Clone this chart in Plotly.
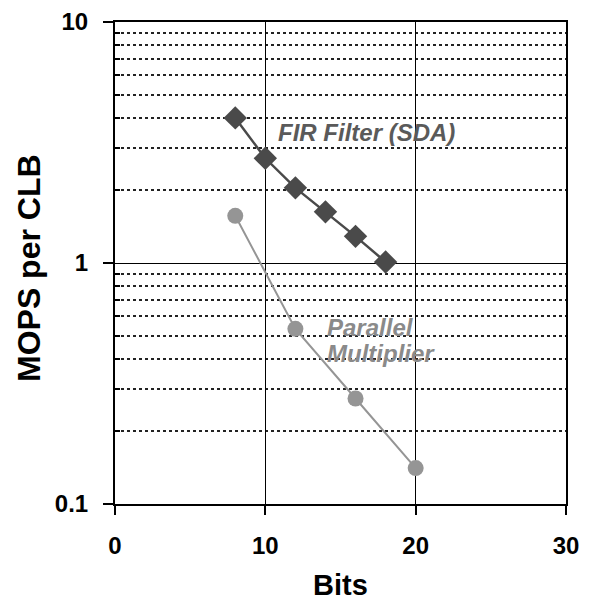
import plotly.graph_objects as go

fir_bits = [8, 10, 12, 14, 16, 18]
fir_mops = [4.0, 2.72, 2.05, 1.63, 1.29, 1.01]
mult_bits = [8, 12, 16, 20]
mult_mops = [1.57, 0.533, 0.274, 0.141]

x_ticks = [0, 10, 20, 30]
y_ticks = [0.1, 1, 10]
y_tick_labels = ["0.1", "1", "10"]
y_minor = [m * d for d in (0.1, 1) for m in range(2, 10)]

font_family = "Liberation Sans, Arial, sans-serif"

fig = go.Figure()
fig.add_trace(go.Scatter(
    x=mult_bits, y=mult_mops, mode="lines+markers",
    line=dict(color="#959595", width=2),
    marker=dict(symbol="circle", size=16, color="#959595"),
    showlegend=False,
))
fig.add_trace(go.Scatter(
    x=fir_bits, y=fir_mops, mode="lines+markers",
    line=dict(color="#4a4a4a", width=2.5),
    marker=dict(symbol="diamond", size=18, color="#4a4a4a"),
    showlegend=False,
))

fig.add_annotation(x=10.7, y=0.541, xref="x", yref="y", yanchor="middle",
                   text="<b><i>FIR Filter (SDA)</i></b>", showarrow=False,
                   xanchor="left", font=dict(family=font_family, size=24, color="#5a5a5a"))
fig.add_annotation(x=14.0, y=-0.266, xref="x", yref="y",
                   text="<b><i>Parallel</i></b>", showarrow=False, yanchor="middle",
                   xanchor="left", font=dict(family=font_family, size=24, color="#8a8a8a"))
fig.add_annotation(x=14.0, y=-0.377, xref="x", yref="y",
                   text="<b><i>Multiplier</i></b>", showarrow=False, yanchor="middle",
                   xanchor="left", font=dict(family=font_family, size=24, color="#8a8a8a"))

# axis titles
fig.add_annotation(x=0, y=0.5, xref="paper", yref="paper", xanchor="center", yanchor="middle",
                   xshift=-86, yshift=-5, textangle=-90, showarrow=False,
                   text="<b>MOPS per CLB</b>", font=dict(family=font_family, size=32, color="black"))
fig.add_annotation(x=0.5, y=0, xref="paper", yref="paper", xanchor="center", yanchor="middle",
                   yshift=-81, showarrow=False,
                   text="<b>Bits</b>", font=dict(family=font_family, size=29, color="black"))

fig.update_layout(
    width=576, height=594,
    margin=dict(l=107, r=18, t=14, b=98),
    paper_bgcolor="white", plot_bgcolor="white",
    font=dict(family=font_family, color="black"),
)
fig.update_xaxes(
    range=[0, 30], tickvals=x_ticks, ticktext=["<b>%d</b>" % v for v in x_ticks],
    showgrid=True, gridcolor="black", gridwidth=1.3,
    showline=True, linecolor="black", linewidth=2, mirror=True,
    ticks="outside", ticklen=9, tickcolor="black", tickwidth=1.5,
    tickfont=dict(family=font_family, size=24, color="black"),
    ticklabelstandoff=10, ticklabeloverflow="allow",
    zeroline=False, automargin=False,
)
fig.update_yaxes(
    type="log", range=[-1, 1], tickvals=y_ticks, ticktext=["<b>%s</b>" % t for t in y_tick_labels],
    showgrid=True, gridcolor="black", gridwidth=1.3,
    showline=True, linecolor="black", linewidth=2, mirror=True,
    ticks="outside", ticklen=10, tickcolor="black", tickwidth=1.5,
    tickfont=dict(family=font_family, size=24, color="black"),
    ticklabelstandoff=10, ticklabeloverflow="allow",
    minor=dict(tickvals=y_minor, showgrid=True, gridcolor="#222", griddash="3px,3px",
               gridwidth=1.5, ticks="inside", ticklen=5, tickcolor="black"),
    zeroline=False, automargin=False,
)

fig.write_html("out.html")
